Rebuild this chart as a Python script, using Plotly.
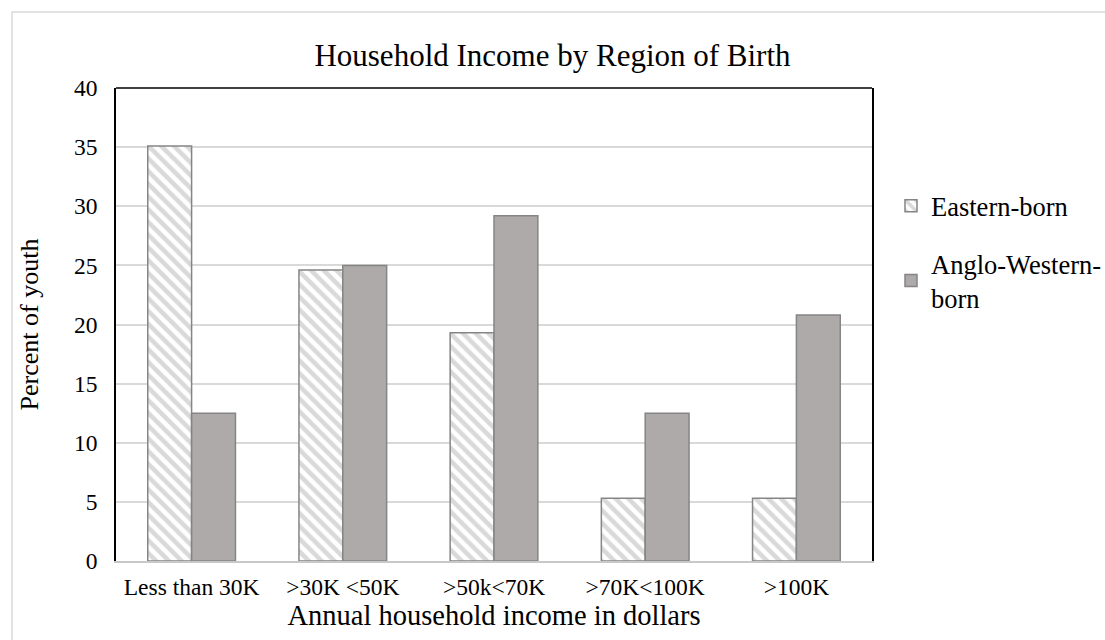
import plotly.graph_objects as go

categories = ["Less than 30K", ">30K <50K", ">50k<70K", ">70K<100K", ">100K"]
eastern = [35.1, 24.6, 19.3, 5.3, 5.3]
anglo = [12.5, 25.0, 29.2, 12.5, 20.8]
series_names = ["Eastern-born", "Anglo-Western-<br>born"]
y_ticks = [0, 5, 10, 15, 20, 25, 30, 35, 40]

FONT = "Liberation Serif, Times New Roman, serif"

fig = go.Figure()
fig.add_trace(go.Bar(
    x=categories, y=eastern, name=series_names[0], legendgroup="a",
    marker=dict(color="white",
                line=dict(color="#858585", width=1.5),
                pattern=dict(shape="\\", fgcolor="#b3b3b3", bgcolor="white",
                             size=9, solidity=0.5)),
))
fig.add_trace(go.Bar(
    x=categories, y=anglo, name=series_names[1], legendgroup="b",
    marker=dict(color="#aeaaaa", line=dict(color="#858585", width=1.5)),
))

L, T, R, B = 116, 88, 872, 561
W, H = 1105, 640

def px_x(px):
    return (px - L) / (R - L)

def px_y(py):
    return (B - py) / (B - T)

fig.update_layout(
    width=W, height=H,
    margin=dict(l=L, r=W - R, t=T, b=H - B, autoexpand=False),
    paper_bgcolor="white", plot_bgcolor="white",
    font=dict(family=FONT, color="black", size=23),
    barmode="group", bargap=0.42, bargroupgap=0,
    title=dict(text="Household Income by Region of Birth", x=0.5, xref="container",
               y=1 - 55 / H, yref="container", yanchor="middle",
               font=dict(family=FONT, size=31, color="black")),
    xaxis=dict(showline=True, linecolor="#c8c8c8", linewidth=1.5, mirror=False,
               ticks="", tickfont=dict(size=23.5), ticklabelstandoff=4,
               title=dict(text="Annual household income in dollars", font=dict(size=28.5), standoff=2)),
    yaxis=dict(range=[0, 40], tickvals=y_ticks, showgrid=True, gridcolor="#d9d9d9", gridwidth=1.5,
               showline=True, linecolor="black", linewidth=1.5, mirror=True,
               ticks="", tickfont=dict(size=23.5), zeroline=False, ticklabelstandoff=12,
               title=dict(text="Percent of youth", font=dict(size=26), standoff=28)),
    legend=dict(x=px_x(891), y=px_y(182), xanchor="left", yanchor="top",
                font=dict(size=26.5), tracegroupgap=20, traceorder="grouped",
                bgcolor="rgba(0,0,0,0)"),
    shapes=[
        dict(type="line", xref="paper", yref="paper", x0=0, x1=1, y0=1, y1=1,
             line=dict(color="black", width=1.5)),
        dict(type="rect", xref="paper", yref="paper",
             x0=px_x(12), x1=px_x(1200), y0=px_y(12), y1=px_y(700),
             line=dict(color="#d9d9d9", width=1.5), layer="below"),
    ],
)

fig.write_html("out.html")
